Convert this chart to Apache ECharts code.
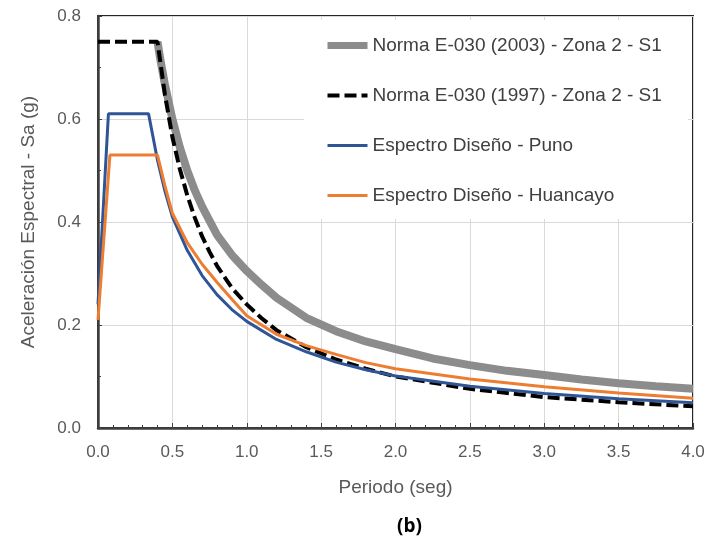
<!DOCTYPE html>
<html>
<head>
<meta charset="utf-8">
<script src="https://cdn.jsdelivr.net/npm/echarts@6/dist/echarts.min.js"></script>
<style>
html,body{margin:0;padding:0;background:#fff;}
#chart{width:724px;height:542px;}
</style>
</head>
<body>
<div id="chart"></div>
<script>
// Series names
const seriesNames = [
  'Norma E-030 (2003) - Zona 2 - S1',
  'Norma E-030 (1997) - Zona 2 - S1',
  'Espectro Diseño - Puno',
  'Espectro Diseño - Huancayo'
];

// Norma E-030 (2003) - periods (s) and Sa (g)
const t2003 = [0.4, 0.42, 0.45, 0.5, 0.55, 0.6, 0.65, 0.7, 0.8, 0.9, 1.0, 1.1, 1.2, 1.4, 1.6, 1.8, 2.0, 2.25, 2.5, 2.75, 3.0, 3.25, 3.5, 3.75, 4.0];
const sa2003 = [0.75, 0.714, 0.667, 0.60, 0.545, 0.50, 0.462, 0.43, 0.375, 0.336, 0.305, 0.278, 0.253, 0.214, 0.188, 0.168, 0.153, 0.135, 0.122, 0.111, 0.103, 0.094, 0.087, 0.081, 0.076];

// Norma E-030 (1997)
const t1997 = [0.0, 0.4, 0.45, 0.5, 0.55, 0.6, 0.65, 0.7, 0.75, 0.8, 0.9, 1.0, 1.1, 1.2, 1.4, 1.6, 1.8, 2.0, 2.5, 3.0, 3.5, 4.0];
const sa1997 = [0.75, 0.75, 0.647, 0.565, 0.503, 0.452, 0.409, 0.372, 0.342, 0.315, 0.272, 0.240, 0.213, 0.19, 0.157, 0.133, 0.115, 0.100, 0.076, 0.060, 0.050, 0.042];

// Espectro Diseño - Puno
const tPuno = [0.0, 0.07, 0.34, 0.4, 0.45, 0.5, 0.6, 0.7, 0.8, 0.9, 1.0, 1.2, 1.4, 1.6, 1.8, 2.0, 2.5, 3.0, 3.5, 4.0];
const saPuno = [0.24, 0.61, 0.61, 0.52, 0.46, 0.41, 0.345, 0.296, 0.259, 0.23, 0.207, 0.172, 0.148, 0.128, 0.113, 0.101, 0.081, 0.067, 0.057, 0.049];

// Espectro Diseño - Huancayo
const tHuan = [0.0, 0.08, 0.40, 0.45, 0.5, 0.6, 0.7, 0.8, 0.9, 1.0, 1.2, 1.4, 1.6, 1.8, 2.0, 2.5, 3.0, 3.5, 4.0];
const saHuan = [0.21, 0.53, 0.53, 0.47, 0.417, 0.36, 0.318, 0.283, 0.25, 0.218, 0.182, 0.16, 0.143, 0.127, 0.115, 0.095, 0.080, 0.068, 0.058];

// Axis ticks
const xTicks = [0.0, 0.5, 1.0, 1.5, 2.0, 2.5, 3.0, 3.5, 4.0];
const yTicks = [0.0, 0.2, 0.4, 0.6, 0.8];

const pairs = (t, s) => t.map((v, i) => [v, s[i]]);

const chart = echarts.init(document.getElementById('chart'), null, {renderer: 'canvas'});
const font = 'Liberation Sans, Arial, sans-serif';

chart.setOption({
  animation: false,
  backgroundColor: '#fff',
  grid: {left: 98, right: 31, top: 16, bottom: 114, show: true, borderColor: '#262626', borderWidth: 2},
  legend: {
    orient: 'vertical',
    left: 304, top: 20,
    padding: [16, 26, 14, 20],
    backgroundColor: '#fff',
    itemWidth: 40, itemHeight: 14, itemGap: 31,
    itemStyle: {opacity: 0},
    textStyle: {fontFamily: font, fontSize: 19, color: '#404040'},
    data: [
      {name: seriesNames[0], lineStyle: {width: 7}},
      {name: seriesNames[1], lineStyle: {width: 4}},
      {name: seriesNames[2], lineStyle: {width: 3}},
      {name: seriesNames[3], lineStyle: {width: 3}}
    ]
  },
  xAxis: {
    type: 'value', min: 0, max: 4, interval: 0.5,
    name: 'Periodo (seg)', nameLocation: 'middle', nameGap: 50,
    nameTextStyle: {fontFamily: font, fontSize: 19, color: '#595959'},
    axisLine: {show: true, onZero: false, lineStyle: {color: '#404040', width: 2.5}},
    axisTick: {show: true, inside: true, length: 5, lineStyle: {color: '#404040'}},
    minorTick: {show: true, splitNumber: 5, length: 3, lineStyle: {color: '#404040'}},
    axisLabel: {fontFamily: font, fontSize: 17, color: '#595959', margin: 16,
      formatter: v => xTicks.includes(+v.toFixed(1)) ? v.toFixed(1) : ''},
    splitLine: {show: true, lineStyle: {color: '#d9d9d9', width: 1}}
  },
  yAxis: {
    type: 'value', min: 0, max: 0.8, interval: 0.2,
    name: 'Aceleración Espectral - Sa (g)', nameLocation: 'middle', nameGap: 60,
    nameTextStyle: {fontFamily: font, fontSize: 19, color: '#595959'},
    axisLine: {show: true, onZero: false, lineStyle: {color: '#404040', width: 2.5}},
    axisTick: {show: true, inside: true, length: 4, lineStyle: {color: '#404040'}},
    minorTick: {show: true, splitNumber: 2, length: 3, lineStyle: {color: '#404040'}},
    axisLabel: {fontFamily: font, fontSize: 17, color: '#595959', margin: 17,
      formatter: v => yTicks.includes(+v.toFixed(1)) ? v.toFixed(1) : ''},
    splitLine: {show: true, lineStyle: {color: '#d9d9d9', width: 1}}
  },
  graphic: [{
    type: 'text', left: 397, top: 517,
    style: {text: '(b)', fontFamily: 'Open Sans, Liberation Sans, sans-serif', fontWeight: 'bold', fontSize: 19, fill: '#000'}
  }],
  series: [
    {name: seriesNames[0], type: 'line', data: pairs(t2003, sa2003), showSymbol: false, symbol: 'none',
      lineStyle: {color: '#8c8c8c', width: 8}, itemStyle: {color: '#8c8c8c'}, z: 2},
    {name: seriesNames[1], type: 'line', data: pairs(t1997, sa1997), showSymbol: false, symbol: 'none',
      lineStyle: {color: '#000', width: 4, type: [12, 5]}, itemStyle: {color: '#000'}, z: 3},
    {name: seriesNames[2], type: 'line', data: pairs(tPuno, saPuno), showSymbol: false, symbol: 'none',
      lineStyle: {color: '#2f5597', width: 3}, itemStyle: {color: '#2f5597'}, z: 4},
    {name: seriesNames[3], type: 'line', data: pairs(tHuan, saHuan), showSymbol: false, symbol: 'none',
      lineStyle: {color: '#ed7d31', width: 3}, itemStyle: {color: '#ed7d31'}, z: 5}
  ]
});
</script>
</body>
</html>
